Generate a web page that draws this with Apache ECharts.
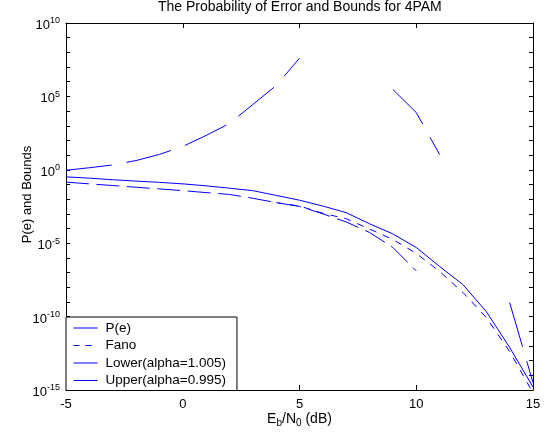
<!DOCTYPE html>
<html>
<head>
<meta charset="utf-8">
<script src="https://cdn.jsdelivr.net/npm/echarts@6/dist/echarts.min.js"></script>
<style>
html,body{margin:0;padding:0;background:#fff;}
#chart{width:544px;height:440px;}
</style>
</head>
<body>
<div id="chart"></div>
<script>
// ---- data ----
const snrDb = [-5,-4,-3,-2,-1,0,1,2,3,4,5,6,7,8,9,10,11,12,13,14,15];
const probError = [3.3e-1,2.7e-1,2.1e-1,1.7e-1,1.4e-1,1.1e-1,8.1e-2,5.6e-2,3.8e-2,1.8e-2,8.5e-3,3.4e-3,1.2e-3,2.1e-4,4.3e-5,5.1e-6,2.6e-7,1.5e-8,2.2e-10,7.9e-13,1.6e-15];
// Fano bound: visible separately only from 4 dB on (hidden under the lower bound before)
const fanoSnr = [4,5,6,7,8,9,10,11,12,13,14,15];
const fanoBound = [5.8e-3,3.4e-3,1.1e-3,4.6e-4,9.3e-5,1.8e-5,2.0e-6,1.2e-7,4.4e-9,8.7e-11,4.2e-13,6.3e-16];
const lowerSnr = [-5,-4,-3,-2,-1,0,1,2,3,4,5,6,7,8,9,10];
const lowerBound = [1.45e-1,1.1e-1,8.5e-2,6.5e-2,5.0e-2,3.8e-2,2.8e-2,2.1e-2,1.15e-2,5.8e-3,3.2e-3,1.0e-3,2.8e-4,5.4e-5,5.1e-6,1.3e-7];
const upperSnr = [-5,-4,-3,-2,-1,0,1,2,3,4,5,6,7,8,9,10,11,12,13,14,15];
const upperBound = [9.3e-1,1.38,2.14,4.27,11.2,38.9,219,1413,2.8e4,5.5e5,4.0e7,null,null,null,2.95e5,7.9e3,11,null,null,9.1e-10,3.2e-15];
const xTicks = [-5, 0, 5, 10, 15];
const yExtent = [1e-15, 1e10];
const seriesNames = ['P(e)', 'Fano', 'Lower(alpha=1.005)', 'Upper(alpha=0.995)'];

const FONT = 'Liberation Sans, Arial, Helvetica, sans-serif';
const BLUE = '#0000ff';
const pair = (xs, ys) => xs.map((x, i) => [x, ys[i]]);

const chart = echarts.init(document.getElementById('chart'), null, {renderer: 'canvas'});

const yLabelFmt = v => {
  const e = Math.round(Math.log10(v));
  return (e % 5 === 0) ? '{b|10}{e|' + e + '}' : '';
};

const axisLineStyle = {show: true, onZero: false, lineStyle: {color: '#000', width: 1}};
const hiddenSymbol = {opacity: 0, color: 'rgba(0,0,0,0)', borderWidth: 0};

chart.setOption({
  animation: false,
  backgroundColor: '#fff',
  title: {
    text: 'The Probability of Error and Bounds for 4PAM',
    left: 158, top: 0, padding: 0,
    textStyle: {fontSize: 14, fontWeight: 'normal', color: '#000', fontFamily: FONT}
  },
  grid: {left: 66, right: 11, top: 23, bottom: 50, containLabel: false},
  legend: {
    orient: 'vertical', left: 66, top: 317,
    padding: [4, 11, 3, 7], itemGap: 3.5, itemWidth: 24, itemHeight: 14,
    borderColor: '#000', borderWidth: 1, borderRadius: 0, backgroundColor: '#fff',
    selectedMode: false,
    itemStyle: hiddenSymbol,
    lineStyle: {width: 1, color: BLUE},
    textStyle: {fontSize: 13.5, color: '#000', fontFamily: FONT, padding: [0, 0, 0, 3]},
    data: [
      {name: seriesNames[0], itemStyle: hiddenSymbol, lineStyle: {type: 'solid', width: 1, color: BLUE}},
      {name: seriesNames[1], itemStyle: hiddenSymbol, lineStyle: {type: [6, 6], width: 1, color: BLUE}},
      {name: seriesNames[2], itemStyle: hiddenSymbol, lineStyle: {type: 'solid', width: 1, color: BLUE}},
      {name: seriesNames[3], itemStyle: hiddenSymbol, lineStyle: {type: 'solid', width: 1, color: BLUE}}
    ]
  },
  xAxis: [{
    type: 'value', min: xTicks[0], max: xTicks[xTicks.length - 1], interval: 5,
    position: 'bottom',
    axisLine: axisLineStyle,
    axisTick: {show: true, inside: true, length: 5, lineStyle: {color: '#000'}},
    axisLabel: {show: true, margin: 8, fontSize: 13, color: '#000', fontFamily: FONT},
    splitLine: {show: false},
    name: 'E{s|b}/N{s|0} (dB)', nameLocation: 'middle', nameGap: 20, nameMoveOverlap: false,
    nameTextStyle: {fontSize: 14, color: '#000', fontFamily: FONT, lineHeight: 18,
      rich: {s: {fontSize: 10, lineHeight: 10, verticalAlign: 'bottom', color: '#000', fontFamily: FONT}}}
  }, {
    type: 'value', min: xTicks[0], max: xTicks[xTicks.length - 1], interval: 5,
    position: 'top',
    axisLine: axisLineStyle,
    axisTick: {show: true, inside: true, length: 5, lineStyle: {color: '#000'}},
    axisLabel: {show: false},
    splitLine: {show: false}
  }],
  yAxis: [{
    type: 'log', logBase: 10, min: yExtent[0], max: yExtent[1], interval: 1, splitNumber: 25,
    position: 'left',
    axisLine: axisLineStyle,
    axisTick: {show: true, inside: true, length: 4, lineStyle: {color: '#000'}},
    axisLabel: {show: true, margin: 6, formatter: yLabelFmt, padding: [5, 0, 0, 0], color: '#000',
      rich: {
        b: {fontSize: 13, lineHeight: 18, color: '#000', fontFamily: FONT},
        e: {fontSize: 9, lineHeight: 10, verticalAlign: 'top', color: '#000', fontFamily: FONT}
      }},
    splitLine: {show: false},
    name: 'P(e) and Bounds', nameLocation: 'middle', nameGap: 32, nameRotate: 90, nameMoveOverlap: false,
    nameTextStyle: {fontSize: 13, color: '#000', fontFamily: FONT, padding: [0, 0, 0, 24]}
  }, {
    type: 'log', logBase: 10, min: yExtent[0], max: yExtent[1], interval: 1, splitNumber: 25,
    position: 'right',
    axisLine: axisLineStyle,
    axisTick: {show: true, inside: true, length: 4, lineStyle: {color: '#000'}},
    axisLabel: {show: false},
    splitLine: {show: false}
  }],
  series: [{
    name: seriesNames[0], type: 'line', data: pair(snrDb, probError),
    symbol: 'none', showSymbol: false, clip: true,
    lineStyle: {color: BLUE, width: 1, type: 'solid'}, itemStyle: {color: BLUE}
  }, {
    name: seriesNames[1], type: 'line', data: pair(fanoSnr, fanoBound),
    symbol: 'none', showSymbol: false, clip: true,
    lineStyle: {color: BLUE, width: 1, type: [7, 7]}, itemStyle: {color: BLUE}
  }, {
    name: seriesNames[2], type: 'line', data: pair(lowerSnr, lowerBound),
    symbol: 'none', showSymbol: false, clip: true,
    lineStyle: {color: BLUE, width: 1, type: [23, 7.5]}, itemStyle: {color: BLUE}
  }, {
    name: seriesNames[3], type: 'line', data: pair(upperSnr, upperBound),
    symbol: 'none', showSymbol: false, clip: true, connectNulls: false,
    lineStyle: {color: BLUE, width: 1, type: [46, 15]}, itemStyle: {color: BLUE}
  }]
});
</script>
</body>
</html>
